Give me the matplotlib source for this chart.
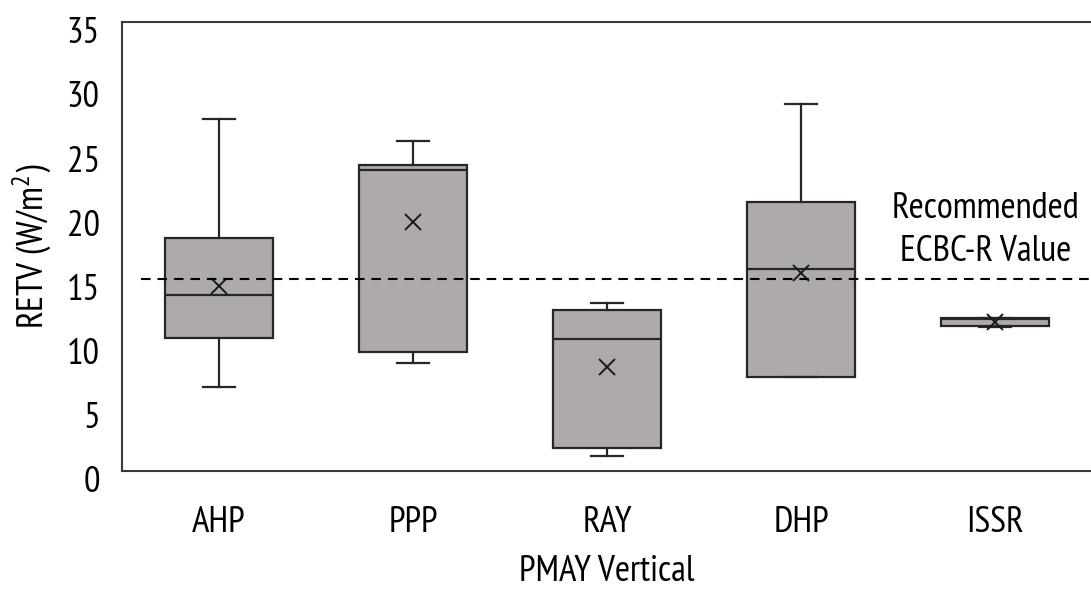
import matplotlib
matplotlib.use("Agg")
import matplotlib.pyplot as plt
from matplotlib.transforms import ScaledTranslation

plt.rcParams['font.family'] = ['PT Sans Narrow', 'DejaVu Sans']

# RETV distribution per PMAY vertical
categories = ["AHP", "PPP", "RAY", "DHP", "ISSR"]
whisker_low = [6.55, 8.45, 1.2, 7.3, 11.25]
quartile_1 = [10.4, 9.25, 1.8, 7.35, 11.3]
median = [13.7, 23.5, 10.3, 15.75, 11.85]
quartile_3 = [18.2, 23.85, 12.55, 20.95, 11.9]
whisker_high = [27.4, 25.7, 13.1, 28.6, 11.9]
mean = [14.4, 19.4, 8.1, 15.45, 11.65]

ecbc_value = 15.0
y_ticks = [0, 5, 10, 15, 20, 25, 30, 35]

box_color = "#AEAAAA"
edge = "#262626"
fs = 26.5

fig = plt.figure(figsize=(10.91, 5.89), dpi=100)
ax = fig.add_axes([122 / 1091, 1 - 471 / 589, 970 / 1091, 449 / 589])

stats = []
for i, name in enumerate(categories):
    stats.append(dict(label=name, whislo=whisker_low[i], q1=quartile_1[i],
                      med=median[i], q3=quartile_3[i], whishi=whisker_high[i],
                      mean=mean[i]))

positions = list(range(1, len(categories) + 1))
ax.bxp(stats, positions=positions, widths=0.56, patch_artist=True,
       showmeans=True, showfliers=False, capwidths=0.165,
       boxprops=dict(facecolor=box_color, edgecolor=edge, linewidth=1.6),
       medianprops=dict(color=edge, linewidth=1.6),
       whiskerprops=dict(color=edge, linewidth=1.6),
       capprops=dict(color=edge, linewidth=1.6),
       meanprops=dict(marker='x', markeredgecolor="#1a1a1a", markersize=12,
                      markeredgewidth=1.4))

ax.hlines(ecbc_value, 0.6, 5.5, colors="black", linestyles=(0, (4.6, 3.3)),
          linewidth=1.5, zorder=5)
ax.text(4.95, 20.5, "Recommended", ha="center", va="center", fontsize=fs)
ax.text(4.95, 17.1, "ECBC-R Value", ha="center", va="center", fontsize=fs)

ax.set_xlim(0.5, 5.5)
ax.set_ylim(0, 35)
ax.set_yticks(y_ticks)
ax.set_xticks(positions)
ax.set_xticklabels(categories)
ax.tick_params(axis='both', length=0, labelsize=fs)
ax.tick_params(axis='x', pad=25.5)
ax.tick_params(axis='y', pad=16)

# y tick labels sit slightly below their gridline position
shift = ScaledTranslation(0, -6 / 72, fig.dpi_scale_trans)
for lbl in ax.get_yticklabels():
    lbl.set_transform(lbl.get_transform() + shift)

for side in ("left", "bottom", "top"):
    ax.spines[side].set_color("#3a3a3a")
    ax.spines[side].set_linewidth(1.5)
ax.spines["right"].set_visible(False)

ax.set_ylabel("RETV (W/m$\\mathregular{^2}$)", fontsize=fs, labelpad=10)
ax.set_xlabel("PMAY Vertical", fontsize=fs, labelpad=11)

fig.savefig("out.png", dpi=100)
